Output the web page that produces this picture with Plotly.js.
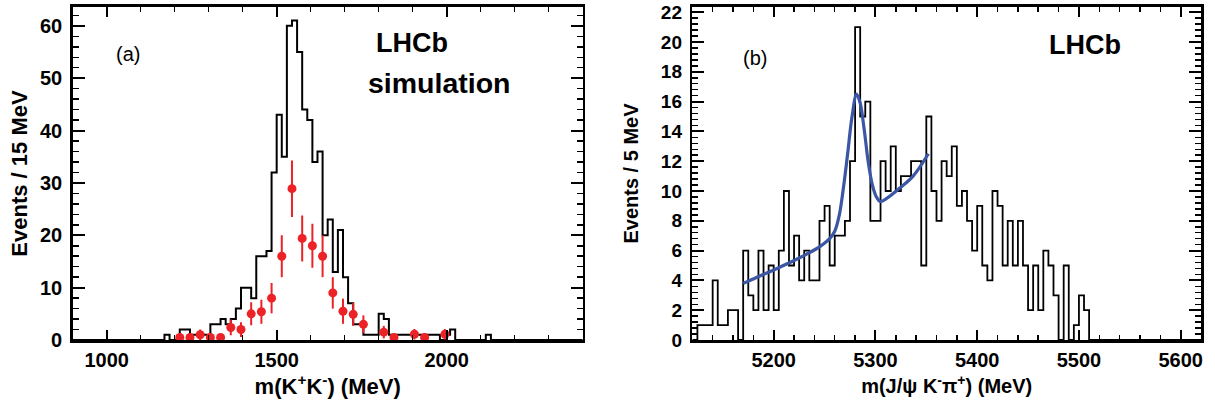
<!DOCTYPE html>
<html><head><meta charset="utf-8">
<script src="https://cdn.plot.ly/plotly-3.0.1.min.js"></script>
<style>html,body{margin:0;padding:0;background:#fff}#chart{width:1215px;height:411px}</style>
</head><body><div id="chart"></div>
<script>
// ---- Panel (a): m(K+K-) simulation histogram, 15 MeV bins from 900 MeV ----
const kkBinLow = 900;
const kkBinWidth = 15;
const kkCounts = [
  0,0,0,0,0,0,0,0,0,0,
  0,0,0,0,0,0,0,0,1,0,
  0,2,2,1,1,1,1,3,3,4,
  3,4,6,10,10,8,16,16,17,32,
  43,35,60,61,55,44,42,34,36,20,
  23,13,21,12,7,3,3,1,1,1,
  5,4,1,1,1,1,1,1,1,1,
  1,1,0,1,2,0,0,0,0,0,
  0,1,0,0,0,0,0,0,0,0,
  0,0,0,0,0,0,0,0,0,0
];
// red data points (30 MeV bins)
const redMass   = [1215,1245,1275,1305,1335,1365,1395,1425,1455,1485,1515,1545,1575,1605,1635,1665,1695,1725,1755,1815,1845,1905,1935,1995];
const redCounts = [0.5,0.5,1.0,0.5,0.5,2.4,2.0,5.0,5.4,8.0,16.0,28.9,19.4,18.0,16.0,9.0,5.5,4.9,3.0,1.5,0.5,1.1,0.5,1.1];
const redErr    = [0.7,0.7,1.0,0.7,0.7,1.5,1.4,2.2,2.3,2.9,4.0,5.4,4.4,4.2,4.0,3.0,2.4,2.2,1.7,1.2,0.7,1.0,0.7,1.0];

// ---- Panel (b): m(J/psi K- pi+) histogram, 5 MeV bins from 5120 MeV ----
const bBinLow = 5120;
const bBinWidth = 5;
const bCounts = [
  0,1,1,1,4,1,1,2,2,0,
  6,3,2,6,2,5,2,6,10,5,
  7,4,6,4,4,8,9,5,7,7,
  8,12,21,15,16,8,8,12,10,13,
  10,11,11,12,12,5,15,10,8,12,
  11,13,9,10,8,6,9,5,4,10,
  9,5,8,5,8,5,2,5,2,6,
  5,3,0,5,0,1,3,2,0,0,
  0,0,0,0,0,0,0,0,0,0,
  0,0,0,0,0,0,0,0,0,0
];
// fit curve (blue)
const fitMass  = [5170,5183,5200,5216,5232,5246,5255,5260,5264.5,5268.5,5272.5,5277,5281.5,5285,5289,5293,5297,5301,5305,5311,5324,5337,5352];
const fitValue = [3.8,4.2,4.7,5.2,5.75,6.3,6.8,7.3,8.4,10.2,12.4,15.0,16.5,15.9,14.1,11.9,10.4,9.6,9.3,9.5,10.2,11.0,12.5];

function stepXY(low, width, counts) {
  const x = [], y = [];
  for (let i = 0; i <= counts.length; i++) {
    x.push(low + i * width);
    y.push(i < counts.length ? counts[i] : counts[counts.length - 1]);
  }
  return {x, y};
}
const kkStep = stepXY(kkBinLow, kkBinWidth, kkCounts);
const bStep = stepXY(bBinLow, bBinWidth, bCounts);

const FONT = 'Liberation Sans, Arial, Helvetica, sans-serif';
const tickFont = {family: FONT, size: 20, weight: 'bold', color: '#000'};
const tickFontB = {family: FONT, size: 19, weight: 'bold', color: '#000'};
const titleFontA = {family: FONT, size: 22, weight: 'bold', color: '#000'};
const titleFontB = {family: FONT, size: 20, weight: 'bold', color: '#000'};

function axis(extra) {
  return Object.assign({
    showline: true, linecolor: '#000', linewidth: 2.5, mirror: 'allticks',
    ticks: 'inside', tickcolor: '#000', tickwidth: 2, ticklen: 10,
    showgrid: false, zeroline: false, tickfont: tickFont, automargin: false,
    ticklabeloverflow: 'allow', fixedrange: true
  }, extra);
}

const traces = [
  {x: kkStep.x, y: kkStep.y, type: 'scatter', mode: 'lines', line: {shape: 'hv', color: '#000', width: 2},
   xaxis: 'x', yaxis: 'y', hoverinfo: 'skip', showlegend: false},
  {x: redMass, y: redCounts, type: 'scatter', mode: 'markers',
   marker: {color: '#ec2227', size: 9},
   error_y: {type: 'data', array: redErr, visible: true, color: '#ec2227', thickness: 2, width: 0},
   xaxis: 'x', yaxis: 'y', showlegend: false},
  {x: bStep.x, y: bStep.y, type: 'scatter', mode: 'lines', line: {shape: 'hv', color: '#000', width: 1.8},
   xaxis: 'x2', yaxis: 'y2', hoverinfo: 'skip', showlegend: false},
  {x: fitMass, y: fitValue, type: 'scatter', mode: 'lines', line: {shape: 'spline', color: '#3a56a5', width: 3.2},
   xaxis: 'x2', yaxis: 'y2', showlegend: false}
];

const ann = (x, y, text, size, bold) => ({
  xref: 'paper', yref: 'paper', x: x, y: y, xanchor: 'center', yanchor: 'middle',
  text: text, showarrow: false,
  font: {family: FONT, size: size, weight: bold ? 'bold' : 'normal', color: '#000'}
});

const yDom = [0.1727, 0.9830];

const layout = {
  width: 1215, height: 411,
  margin: {l: 0, r: 0, t: 0, b: 0},
  paper_bgcolor: '#fff', plot_bgcolor: '#fff',
  showlegend: false,
  xaxis: axis({domain: [0.0598, 0.4796], anchor: 'y', range: [900, 2400], dtick: 500, tick0: 0,
    minor: {dtick: 100, ticklen: 5, tickwidth: 1.5, ticks: 'inside', tickcolor: '#000'},
    title: {text: 'm(K<sup>+</sup>K<sup>-</sup>) (MeV)', font: titleFontA, standoff: 8}}),
  yaxis: axis({domain: yDom, anchor: 'x', range: [0, 63.6], dtick: 10, ticklen: 12,
    minor: {dtick: 2, ticklen: 6, tickwidth: 1.5, ticks: 'inside', tickcolor: '#000'},
    ticklabelstandoff: 4,
    title: {text: 'Events / 15 MeV', font: titleFontA, standoff: 6}}),
  xaxis2: axis({domain: [0.5698, 0.9885], anchor: 'y2', range: [5120, 5620], dtick: 100, tick0: 0,
    minor: {dtick: 20, ticklen: 5, tickwidth: 1.5, ticks: 'inside', tickcolor: '#000'},
    title: {text: 'm(J/ψ K<sup>-</sup>π<sup>+</sup>) (MeV)', font: titleFontB, standoff: 10}}),
  yaxis2: axis({domain: yDom, anchor: 'x2', range: [0, 22.35], dtick: 2, ticklen: 12, tickfont: tickFontB,
    minor: {dtick: 0.4, ticklen: 6, tickwidth: 1.5, ticks: 'inside', tickcolor: '#000'},
    ticklabelstandoff: 4,
    title: {text: 'Events / 5 MeV', font: titleFontB, standoff: 17}}),
  annotations: [
    ann(0.1053, 0.869, '(a)', 20, false),
    ann(0.3390, 0.896, 'LHCb', 27, true),
    ann(0.3621, 0.798, 'simulation', 28.5, true),
    ann(0.6214, 0.860, '(b)', 20, false),
    ann(0.8930, 0.890, 'LHCb', 27, true)
  ]
};

Plotly.newPlot('chart', traces, layout, {staticPlot: true, displayModeBar: false});
</script>
</body></html>
